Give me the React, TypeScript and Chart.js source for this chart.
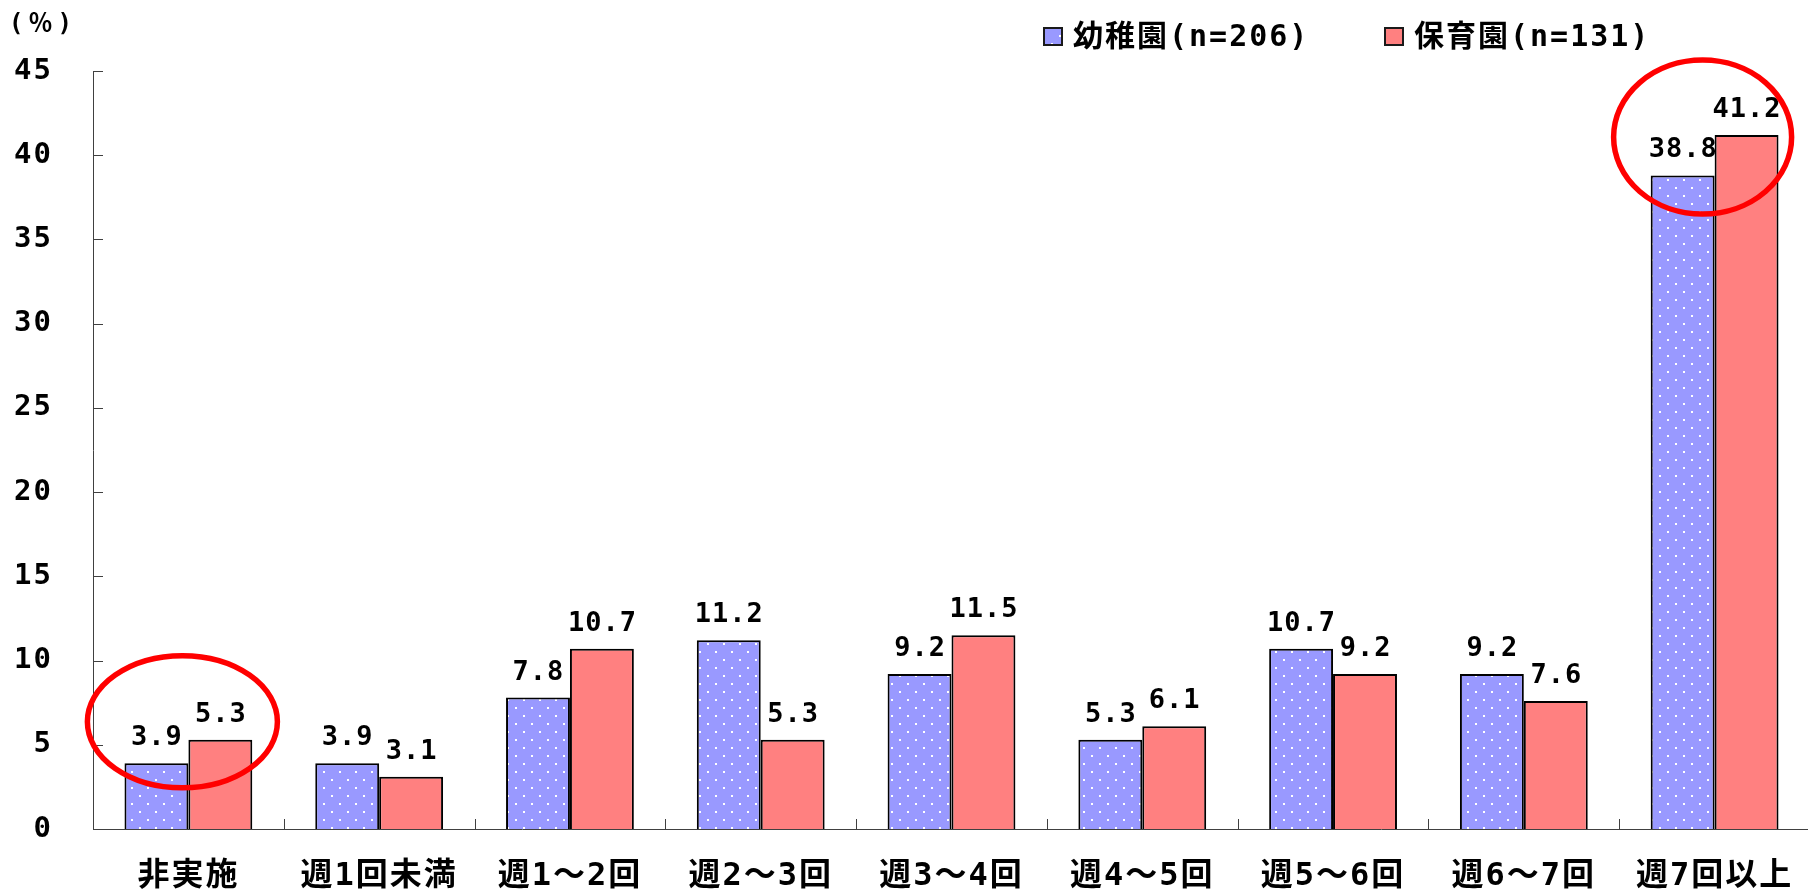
import { useEffect, useRef } from 'react';
import { Chart, registerables } from 'chart.js';

Chart.register(...registerables);

// Frequency categories along the x axis
const categories = ['非実施', '週1回未満', '週1～2回', '週2～3回', '週3～4回', '週4～5回', '週5～6回', '週6～7回', '週7回以上'];

// Share of respondents (%)
const kindergartenPct = [3.9, 3.9, 7.8, 11.2, 9.2, 5.3, 10.7, 9.2, 38.8];
const nurseryPct = [5.3, 3.1, 10.7, 5.3, 11.5, 6.1, 9.2, 7.6, 41.2];

const seriesNames = ['幼稚園(n=206)', '保育園(n=131)'];
const yTickValues = [0, 5, 10, 15, 20, 25, 30, 35, 40, 45];
const unitLabel = '(％)';

// Categories that get a red ring around their pair of bars
const ringedCategories = [0, 8];

const BLUE = '#9999FF';
const RED = '#FF8080';
const AXIS = '#404040';
const LATIN_CJK = '"DejaVu Sans Mono", "Noto Sans CJK JP", sans-serif';

function makeDotPattern(ctx: CanvasRenderingContext2D): CanvasPattern | string {
  const tile = document.createElement('canvas');
  tile.width = 16;
  tile.height = 16;
  const g = tile.getContext('2d');
  if (!g) return BLUE;
  g.fillStyle = BLUE;
  g.fillRect(0, 0, 16, 16);
  g.fillStyle = '#FFFFFF';
  g.fillRect(3, 3, 2, 2);
  g.fillRect(11, 11, 2, 2);
  return ctx.createPattern(tile, 'repeat') || BLUE;
}

// Wider glyph spacing for all text the library draws
const spacingPlugin = {
  id: 'spacing',
  beforeUpdate(chart: any) {
    chart.ctx.letterSpacing = '2px';
  },
  beforeDraw(chart: any) {
    chart.ctx.letterSpacing = '2px';
  },
};

// Short tick marks pointing into the plot area
const innerTicksPlugin = {
  id: 'innerTicks',
  afterDraw(chart: any) {
    const { ctx, chartArea, scales } = chart;
    const x = scales.x;
    const y = scales.y;
    ctx.save();
    ctx.strokeStyle = AXIS;
    ctx.lineWidth = 1;
    ctx.beginPath();
    y.ticks.forEach((_t: any, i: number) => {
      const py = Math.round(y.getPixelForTick(i)) + 0.5;
      ctx.moveTo(chartArea.left, py);
      ctx.lineTo(chartArea.left + 10, py);
    });
    for (let i = 1; i < categories.length; i++) {
      const px = Math.round((x.getPixelForValue(i - 1) + x.getPixelForValue(i)) / 2) + 0.5;
      ctx.moveTo(px, chartArea.bottom);
      ctx.lineTo(px, chartArea.bottom - 10);
    }
    ctx.stroke();
    ctx.restore();
  },
};

// Value printed above every bar
const valueLabelPlugin = {
  id: 'valueLabels',
  afterDatasetsDraw(chart: any) {
    const { ctx } = chart;
    ctx.save();
    ctx.letterSpacing = '1px';
    ctx.font = `bold 27px ${LATIN_CJK}`;
    ctx.fillStyle = '#000';
    ctx.textAlign = 'center';
    ctx.textBaseline = 'alphabetic';
    chart.data.datasets.forEach((ds: any, di: number) => {
      const meta = chart.getDatasetMeta(di);
      meta.data.forEach((el: any, i: number) => {
        ctx.fillText(Number(ds.data[i]).toFixed(1), el.x + 0.5, el.y - 18);
      });
    });
    ctx.restore();
  },
};

// Legend row, unit label and red rings
const decorPlugin = {
  id: 'decor',
  afterDraw(chart: any) {
    const { ctx, scales } = chart;
    const x = scales.x;
    const y = scales.y;
    ctx.save();

    // unit label
    ctx.letterSpacing = '5px';
    ctx.font = `bold 24px ${LATIN_CJK}`;
    ctx.fillStyle = '#000';
    ctx.textAlign = 'left';
    ctx.textBaseline = 'middle';
    ctx.fillText(unitLabel, 9, 25);

    // legend
    ctx.letterSpacing = '2px';
    ctx.font = `bold 30px ${LATIN_CJK}`;
    const legendX = [1043, 1384];
    chart.data.datasets.forEach((ds: any, k: number) => {
      const lx = legendX[k];
      ctx.fillStyle = ds.backgroundColor;
      ctx.fillRect(lx, 27, 20, 19);
      ctx.strokeStyle = '#1a1a1a';
      ctx.lineWidth = 2;
      ctx.strokeRect(lx + 1, 28, 18, 17);
      ctx.fillStyle = '#000';
      ctx.fillText(ds.label, lx + 30, 38);
    });

    // rings around selected category pairs
    ctx.strokeStyle = '#FF0000';
    ctx.lineWidth = 5.5;
    const ringShape = [
      { dx: -6, dy: -18, rx: 95, ry: 66 },
      { dx: -12, dy: 2, rx: 89, ry: 77 },
    ];
    ringedCategories.forEach((ci, k) => {
      const top = Math.max(kindergartenPct[ci], nurseryPct[ci]);
      const s = ringShape[k];
      const cx = x.getPixelForValue(ci) + s.dx;
      const cy = y.getPixelForValue(top) + s.dy;
      ctx.beginPath();
      ctx.ellipse(cx, cy, s.rx, s.ry, 0, 0, Math.PI * 2);
      ctx.stroke();
    });
    ctx.restore();
  },
};

export default function App() {
  const canvasRef = useRef<HTMLCanvasElement | null>(null);

  useEffect(() => {
    const canvas = canvasRef.current;
    if (!canvas) return;
    const ctx = canvas.getContext('2d');
    if (!ctx) return;
    const dots = makeDotPattern(ctx);

    const chart = new Chart(ctx, {
      type: 'bar',
      data: {
        labels: categories,
        datasets: [
          {
            label: seriesNames[0],
            data: kindergartenPct,
            backgroundColor: dots as any,
            borderColor: '#000',
            borderWidth: 2,
            categoryPercentage: 0.67,
            barPercentage: 1.0,
          },
          {
            label: seriesNames[1],
            data: nurseryPct,
            backgroundColor: RED,
            borderColor: '#000',
            borderWidth: 2,
            categoryPercentage: 0.67,
            barPercentage: 1.0,
          },
        ],
      },
      options: {
        responsive: false,
        animation: false,
        events: [],
        devicePixelRatio: 1,
        layout: { padding: { top: 71, left: 0, right: 0, bottom: 0 } },
        plugins: {
          legend: { display: false },
          tooltip: { enabled: false },
          title: { display: false },
        },
        scales: {
          x: {
            grid: { display: false, drawTicks: false },
            border: { display: true, color: AXIS, width: 1 },
            ticks: {
              color: '#000',
              padding: 28,
              maxRotation: 0,
              autoSkip: false,
              font: { family: LATIN_CJK, size: 32, weight: 'bold' },
            },
            afterFit(scale: any) {
              scale.height = 64;
              scale.paddingLeft = 0;
              scale.paddingRight = 0;
            },
          },
          y: {
            min: 0,
            max: 45,
            afterBuildTicks(scale: any) {
              scale.ticks = yTickValues.map((v) => ({ value: v }));
            },
            grid: { display: false, drawTicks: false },
            border: { display: true, color: AXIS, width: 1 },
            ticks: {
              color: '#000',
              padding: 40,
              font: { family: '"DejaVu Sans Mono", sans-serif', size: 29, weight: 'bold' },
            },
            afterFit(scale: any) {
              scale.width = 93;
            },
          },
        },
      },
      plugins: [spacingPlugin, innerTicksPlugin, valueLabelPlugin, decorPlugin],
    });

    return () => chart.destroy();
  }, []);

  return (
    <div
      style={{
        position: 'fixed',
        left: 0,
        top: 0,
        width: 1808,
        height: 893,
        overflow: 'hidden',
        background: '#fff',
      }}
    >
      <canvas ref={canvasRef} width={1810} height={893} style={{ display: 'block', width: 1810, height: 893 }} />
    </div>
  );
}
